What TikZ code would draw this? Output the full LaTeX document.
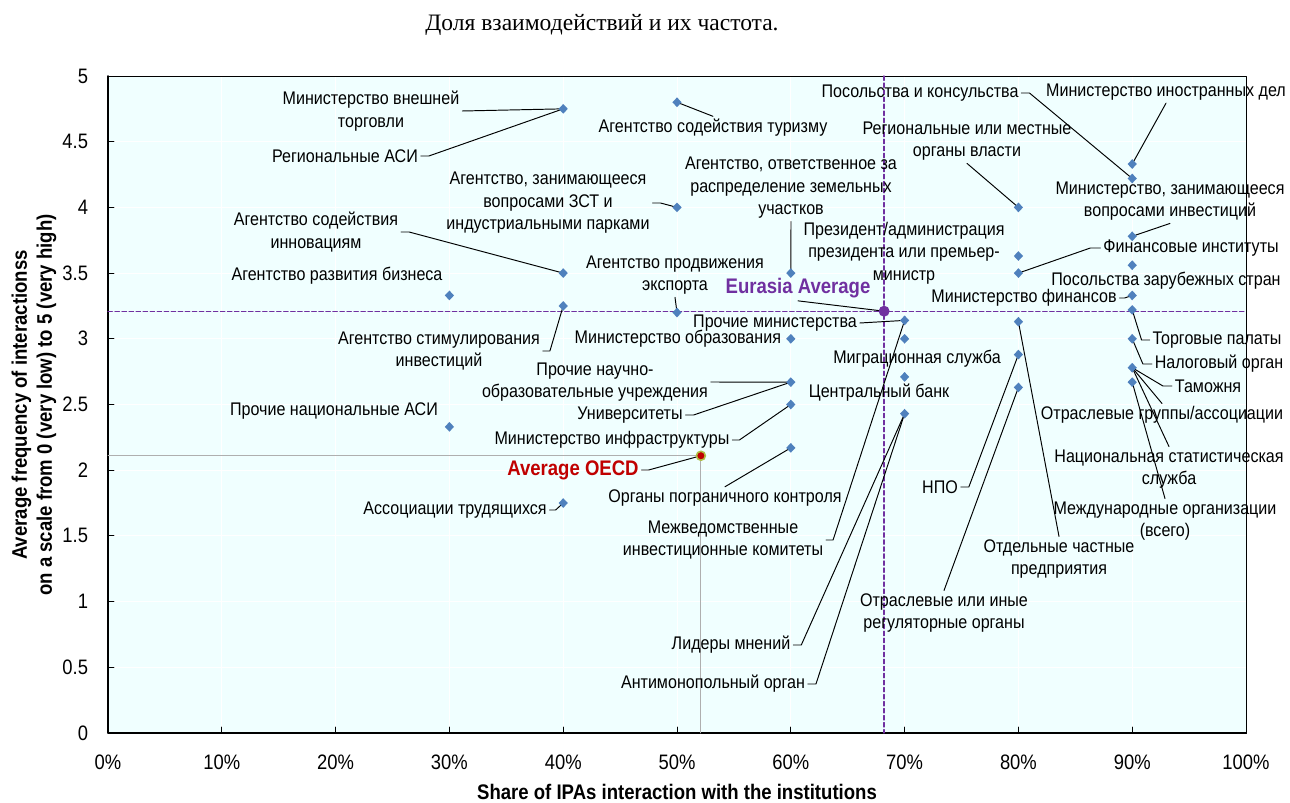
\documentclass[tikz,border=0pt]{standalone}
\usepackage{fontspec}
\setmainfont{Liberation Sans}[FakeStretch=0.88]
\newfontfamily\titlefont{Liberation Serif}
\usepackage{tikz}
\usetikzlibrary{shapes.geometric}
\definecolor{plotbg}{RGB}{240,255,255}
\definecolor{ptblue}{RGB}{79,129,189}
\definecolor{eurpurple}{RGB}{112,48,160}
\definecolor{oecdred}{RGB}{192,0,0}
\definecolor{oecdrim}{RGB}{175,190,70}
\definecolor{avgrey}{RGB}{175,175,175}

\begin{document}
\begin{tikzpicture}[
						x=0.02cm, y=-0.02cm,
						every node/.style={font=\fontsize{10.4}{12.8}\selectfont, inner sep=1.5pt},
						lbl/.style={align=center},
						pt/.style={shape=diamond, fill=ptblue, inner sep=0pt, minimum width=0.19cm, minimum height=0.2cm},
						leadline/.style={black, line width=0.55pt},
						ticklbl/.style={font=\fontsize{11.9}{13}\selectfont},
						axtitle/.style={font=\bfseries\fontsize{12}{14.2}\selectfont},
						avglbl/.style={font=\bfseries\fontsize{12}{13}\selectfont},
						line cap=round,
						line join=round
						]
						
						\useasboundingbox (0,0) rectangle (1290,803);
						
						\node[font=\titlefont\fontsize{13.4}{15}\selectfont] (title) at (602,25) {Доля взаимодействий и их частота.};
						
						\fill[plotbg] (108,76) rectangle (1246,733);
						\foreach \i in {1,...,9}
							\draw[white, line width=0.5pt] ({108+113.8*\i},76) -- ({108+113.8*\i},733);
						\foreach \j in {1,...,9}
							\draw[white, line width=0.5pt] (108,{733-65.7*\j}) -- (1246,{733-65.7*\j});
						\draw[line width=0.5pt] (108,76) rectangle (1246,733);
						\draw[line width=1.1pt] (108,76) -- (108,733) -- (1246,733);
						
						\foreach \i/\t in {0/0,1/10,2/20,3/30,4/40,5/50,6/60,7/70,8/80,9/90,10/100}{
							\draw[line width=0.5pt] ({108+113.8*\i},733) -- ++(0,-6);
							\node[ticklbl] (xt\i) at ({108+113.8*\i},762) {\t\%};
						}
						\foreach \j/\t in {0/0,1/0.5,2/1,3/1.5,4/2,5/2.5,6/3,7/3.5,8/4,9/4.5,10/5}{
							\draw[line width=0.5pt] (108,{733-65.7*\j}) -- ++(6,0);
							\node[ticklbl, anchor=east] (yt\j) at (91,{733-65.7*\j}) {\t};
						}
						
						\node[axtitle] (xtitle) at (677,792) {Share of IPAs interaction with the institutions};
						\node[axtitle, rotate=90, align=center] (ytitle) at (34,405) {Average frequency of interactionss\\on a scale from 0 (very low) to 5 (very high)};
						
						\draw[eurpurple, line width=0.75pt, dash pattern=on 2.5pt off 1.5pt] (108,311.2) -- (1246,311.2);
						\draw[eurpurple, line width=0.75pt, dash pattern=on 2.5pt off 1.5pt] (884.1,76) -- (884.1,733);
						\draw[avgrey, line width=0.5pt] (108,455.7) -- (700.9,455.7) -- (700.9,733);
						
						\coordinate (ftrade) at ({108+11.38*40},{733-131.4*4.75});
						\coordinate (tourism) at ({108+11.38*50},{733-131.4*4.8});
						\coordinate (ftz) at ({108+11.38*50},{733-131.4*4.0});
						\coordinate (bizdev) at ({108+11.38*30},{733-131.4*3.33});
						\coordinate (innov) at ({108+11.38*40},{733-131.4*3.5});
						\coordinate (invprom) at ({108+11.38*40},{733-131.4*3.25});
						\coordinate (export) at ({108+11.38*50},{733-131.4*3.2});
						\coordinate (land) at ({108+11.38*60},{733-131.4*3.5});
						\coordinate (educ) at ({108+11.38*60},{733-131.4*3.0});
						\coordinate (science) at ({108+11.38*60},{733-131.4*2.67});
						\coordinate (infra) at ({108+11.38*60},{733-131.4*2.5});
						\coordinate (border) at ({108+11.38*60},{733-131.4*2.17});
						\coordinate (othipa) at ({108+11.38*30},{733-131.4*2.33});
						\coordinate (unions) at ({108+11.38*40},{733-131.4*1.75});
						\coordinate (othmin) at ({108+11.38*70},{733-131.4*3.14});
						\coordinate (migr) at ({108+11.38*70},{733-131.4*3.0});
						\coordinate (cbank) at ({108+11.38*70},{733-131.4*2.71});
						\coordinate (antimon) at ({108+11.38*70},{733-131.4*2.43});
						\coordinate (regauth) at ({108+11.38*80},{733-131.4*4.0});
						\coordinate (pres) at ({108+11.38*80},{733-131.4*3.63});
						\coordinate (finin) at ({108+11.38*80},{733-131.4*3.5});
						\coordinate (private) at ({108+11.38*80},{733-131.4*3.13});
						\coordinate (ngo) at ({108+11.38*80},{733-131.4*2.88});
						\coordinate (regul) at ({108+11.38*80},{733-131.4*2.63});
						\coordinate (mfa) at ({108+11.38*90},{733-131.4*4.33});
						\coordinate (emb) at ({108+11.38*90},{733-131.4*4.22});
						\coordinate (mininv) at ({108+11.38*90},{733-131.4*3.78});
						\coordinate (foremb) at ({108+11.38*90},{733-131.4*3.56});
						\coordinate (minfin) at ({108+11.38*90},{733-131.4*3.33});
						\coordinate (chamb) at ({108+11.38*90},{733-131.4*3.22});
						\coordinate (tax) at ({108+11.38*90},{733-131.4*3.0});
						\coordinate (customs) at ({108+11.38*90},{733-131.4*2.78});
						\coordinate (intorg) at ({108+11.38*90},{733-131.4*2.67});
						\coordinate (eur-c) at ({108+11.38*68.2},{733-131.4*3.21});
						\coordinate (oecd-c) at ({108+11.38*52.1},{733-131.4*2.11});
						
						\node[lbl] (ftrade-lbl) at (371,111) {Министерство внешней\\торговли};
						\node[lbl] (regipa-lbl) at (345,156) {Региональные АСИ};
						\node[lbl] (tourism-lbl) at (713,128) {Агентство содействия туризму};
						\node[lbl] (ftz-lbl) at (548,203) {Агентство, занимающееся\\вопросами ЗСТ и\\индустриальными парками};
						\node[lbl] (innov-lbl) at (316,232) {Агентство содействия\\инновациям};
						\node[lbl] (bizdev-lbl) at (337,276) {Агентство развития бизнеса};
						\node[lbl] (invprom-lbl) at (439,351) {Агентство стимулирования\\инвестиций};
						\node[lbl] (export-lbl) at (675,275) {Агентство продвижения\\экспорта};
						\node[lbl] (land-lbl) at (791,188) {Агентство, ответственное за\\распределение земельных\\участков};
						\node[lbl, anchor=east] (educ-lbl) at (784,339) {Министерство образования};
						\node[lbl] (science-lbl) at (595,382) {Прочие научно-\\образовательные учреждения};
						\node[lbl] (univ-lbl) at (630,415) {Университеты};
						\node[lbl] (infra-lbl) at (612,440) {Министерство инфраструктуры};
						\node[lbl] (border-lbl) at (725,498) {Органы пограничного контроля};
						\node[lbl] (othipa-lbl) at (334,411) {Прочие национальные АСИ};
						\node[lbl] (unions-lbl) at (455,510) {Ассоциации трудящихся};
						\node[lbl] (interag-lbl) at (723,540) {Межведомственные\\инвестиционные комитеты};
						\node[lbl] (opinion-lbl) at (731,645) {Лидеры мнений};
						\node[lbl] (antimon-lbl) at (713,684) {Антимонопольный орган};
						\node[lbl] (othmin-lbl) at (775,323) {Прочие министерства};
						\node[lbl] (migr-lbl) at (917,359) {Миграционная служба};
						\node[lbl] (cbank-lbl) at (879,393) {Центральный банк};
						\node[lbl] (pres-lbl) at (904,253) {Президент/администрация\\президента или премьер-\\министр};
						\node[lbl] (regauth-lbl) at (967,141) {Региональные или местные\\органы власти};
						\node[lbl] (emb-lbl) at (920,93) {Посольства и консульства};
						\node[lbl] (mfa-lbl) at (1166,92) {Министерство иностранных дел};
						\node[lbl] (mininv-lbl) at (1170,201) {Министерство, занимающееся\\вопросами инвестиций};
						\node[lbl] (finin-lbl) at (1191,248) {Финансовые институты};
						\node[lbl] (foremb-lbl) at (1166,281) {Посольства зарубежных стран};
						\node[lbl] (minfin-lbl) at (1024,298) {Министерство финансов};
						\node[lbl] (chamb-lbl) at (1217,340) {Торговые палаты};
						\node[lbl] (tax-lbl) at (1219,364) {Налоговый орган};
						\node[lbl] (customs-lbl) at (1208,386) {Таможня};
						\node[lbl] (indgr-lbl) at (1162,415) {Отраслевые группы/ассоциации};
						\node[lbl] (stat-lbl) at (1169,469) {Национальная статистическая\\служба};
						\node[lbl] (intorg-lbl) at (1165,521) {Международные организации\\(всего)};
						\node[lbl] (ngo-lbl) at (940,487) {НПО};
						\node[lbl] (private-lbl) at (1059,559) {Отдельные частные\\предприятия};
						\node[lbl] (regul-lbl) at (944,613) {Отраслевые или иные\\регуляторные органы};
						\node[lbl, avglbl, text=eurpurple] (eur-lbl) at (798,288) {Eurasia Average};
						\node[lbl, avglbl, text=oecdred] (oecd-lbl) at (573,470) {Average OECD};
						
						\draw[leadline] (ftrade-lbl.east) -- (ftrade);
						\draw[leadline] (regipa-lbl.east) -- ++(8,0) -- (ftrade);
						\draw[leadline] (tourism-lbl.north) -- (tourism);
						\draw[leadline] (ftz-lbl.east) -- ++(8,0) -- (ftz);
						\draw[leadline] (innov-lbl.east) -- ++(8,0) -- (innov);
						\draw[leadline] (invprom-lbl.east) -- ++(7,0) -- (invprom);
						\draw[leadline] (export-lbl.south) -- (export);
						\draw[leadline] (land-lbl.south) -- (land);
						\draw[leadline] (science-lbl.east) -- (science);
						\draw[leadline] (univ-lbl.east) -- ++(8,0) -- (science);
						\draw[leadline] (infra-lbl.east) -- ++(7,0) -- (infra);
						\draw[leadline] (border-lbl.north) -- (border);
						\draw[leadline] (unions-lbl.east) -- ++(6,0) -- (unions);
						\draw[leadline] (interag-lbl.east) -- ++(7,0) -- (othmin);
						\draw[leadline] (opinion-lbl.east) -- ++(8,0) -- (antimon);
						\draw[leadline] (antimon-lbl.east) -- ++(8,0) -- (antimon);
						\draw[leadline] (othmin-lbl.east) -- (othmin);
						\draw[leadline] (regauth-lbl.south) -- (regauth);
						\draw[leadline] (emb-lbl.east) -- ++(8,0) -- (emb);
						\draw[leadline] (mfa-lbl.south) -- (mfa);
						\draw[leadline] (mininv-lbl.south) -- (mininv);
						\draw[leadline] (finin-lbl.west) -- ++(-10,0) -- (finin);
						\draw[leadline] (minfin-lbl.east) -- ++(5,0) -- (minfin);
						\draw[leadline] (chamb-lbl.west) -- ++(-8,0) -- (chamb);
						\draw[leadline] (tax-lbl.west) -- ++(-9,0) -- (tax);
						\draw[leadline] (customs-lbl.west) -- ++(-9,0) -- (customs);
						\draw[leadline] (indgr-lbl.north) -- (customs);
						\draw[leadline] (stat-lbl.north) -- (customs);
						\draw[leadline] (intorg-lbl.north) -- (intorg);
						\draw[leadline] (ngo-lbl.east) -- ++(8,0) -- (ngo);
						\draw[leadline] (private-lbl.north) -- (private);
						\draw[leadline] (regul-lbl.north) -- (regul);
						\draw[leadline] (eur-lbl.south) -- (eur-c);
						\draw[leadline] (oecd-lbl.east) -- ++(7,0) -- (oecd-c);
						
						\foreach \p in {ftrade,tourism,ftz,bizdev,innov,invprom,export,land,educ,science,infra,border,othipa,unions,othmin,migr,cbank,antimon,regauth,pres,finin,private,ngo,regul,mfa,emb,mininv,foremb,minfin,chamb,tax,customs,intorg}
							\node[pt] (\p-pt) at (\p) {};
						
						\node[circle, fill=eurpurple, inner sep=0pt, minimum size=0.22cm] (eur) at (eur-c) {};
						\node[circle, fill=oecdred, draw=oecdrim, line width=0.9pt, inner sep=0pt, minimum size=0.18cm] (oecd) at (oecd-c) {};
						
					\end{tikzpicture}
\end{document}
